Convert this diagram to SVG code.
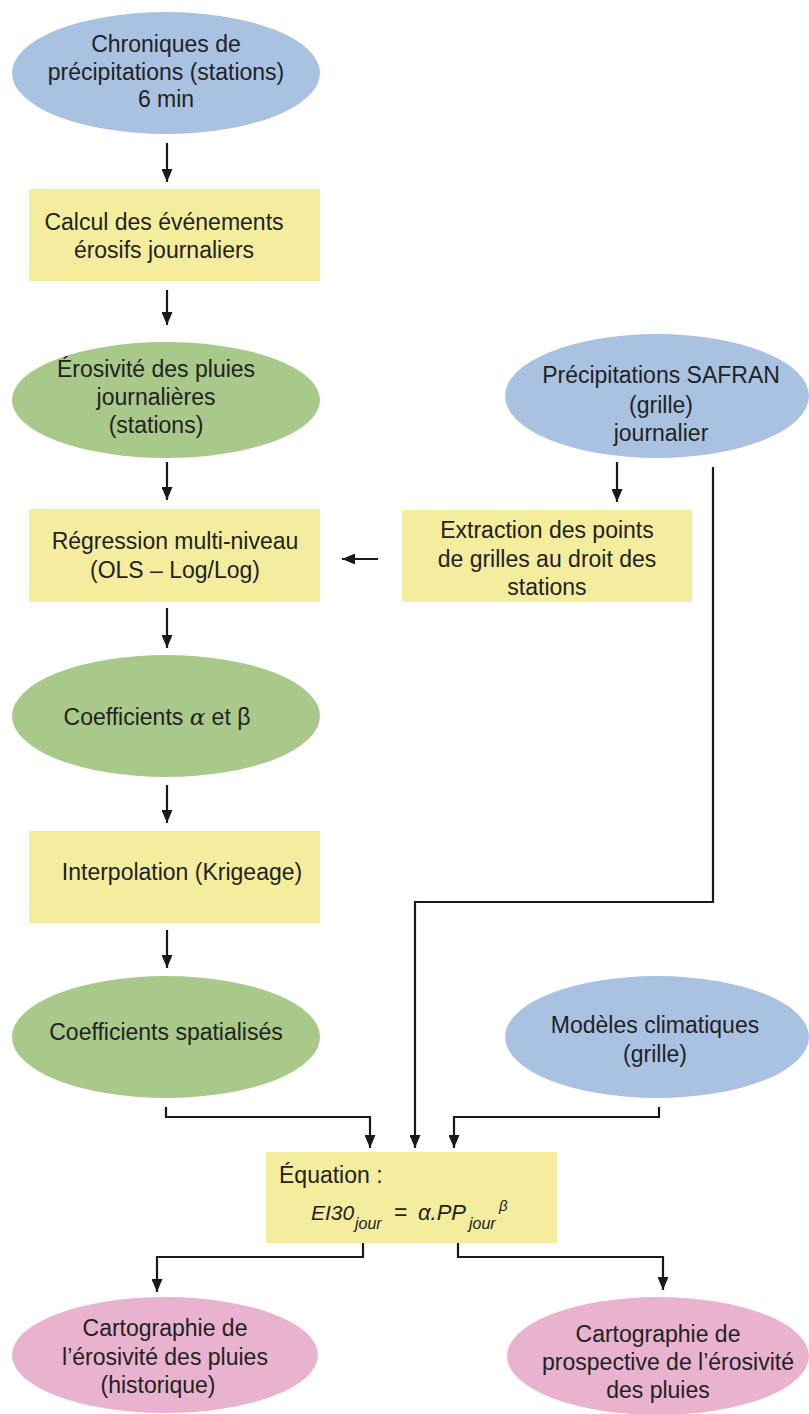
<svg xmlns="http://www.w3.org/2000/svg" width="809" height="1414" viewBox="0 0 809 1414">
<style>
text{font-family:"Liberation Sans",Arial,sans-serif;font-size:23px;fill:#222;}
.m{text-anchor:middle;}
.blue{fill:#a9c2e2;}
.green{fill:#a8c98a;}
.yellow{fill:#f4ed9e;}
.pink{fill:#e9b3cf;}
.c{fill:none;stroke:#1a1a1a;stroke-width:2.2;}
.a{marker-end:url(#ah);}
</style>
<defs>
<marker id="ah" viewBox="0 0 13 11" refX="13" refY="5.5" markerWidth="13" markerHeight="11" markerUnits="userSpaceOnUse" orient="auto">
<path d="M0,0 L13,5.5 L0,11 z" fill="#1a1a1a"/>
</marker>
</defs>
<rect width="809" height="1414" fill="#fff"/>

<g id="n-chroniques">
<ellipse class="blue" cx="166" cy="73" rx="154" ry="61"/>
<text class="m" x="166" y="52">Chroniques de</text>
<text class="m" x="166" y="80">précipitations (stations)</text>
<text class="m" x="166" y="107">6 min</text>
</g>
<g id="n-calcul">
<rect class="yellow" x="29" y="189" width="291" height="92"/>
<text class="m" x="164" y="230">Calcul des événements</text>
<text class="m" x="164" y="258">érosifs journaliers</text>
</g>
<g id="n-erosivite">
<ellipse class="green" cx="166" cy="400" rx="154" ry="58"/>
<text class="m" x="156" y="377">Érosivité des pluies</text>
<text class="m" x="156" y="405">journalières</text>
<text class="m" x="156" y="433">(stations)</text>
</g>
<g id="n-regression">
<rect class="yellow" x="29" y="509" width="291" height="93"/>
<text class="m" x="175" y="549">Régression multi-niveau</text>
<text class="m" x="175" y="578">(OLS – Log/Log)</text>
</g>
<g id="n-coef">
<ellipse class="green" cx="166" cy="716" rx="154" ry="61"/>
<text class="m" x="157" y="725">Coefficients <tspan font-style="italic" font-family="'DejaVu Serif',serif">α</tspan> et β</text>
</g>
<g id="n-interpolation">
<rect class="yellow" x="29" y="831" width="291" height="92"/>
<text class="m" x="182" y="880">Interpolation (Krigeage)</text>
</g>
<g id="n-coefspat">
<ellipse class="green" cx="166" cy="1037" rx="154" ry="61"/>
<text class="m" x="166" y="1040">Coefficients spatialisés</text>
</g>
<g id="n-safran">
<ellipse class="blue" cx="657" cy="396" rx="152" ry="62"/>
<text class="m" x="661" y="383">Précipitations SAFRAN</text>
<text class="m" x="661" y="413">(grille)</text>
<text class="m" x="661" y="441">journalier</text>
</g>
<g id="n-extraction">
<rect class="yellow" x="402" y="510" width="290" height="92"/>
<text class="m" x="547" y="538">Extraction des points</text>
<text class="m" x="547" y="567">de grilles au droit des</text>
<text class="m" x="547" y="595">stations</text>
</g>
<g id="n-modeles">
<ellipse class="blue" cx="657" cy="1037" rx="152" ry="61"/>
<text class="m" x="655" y="1033">Modèles climatiques</text>
<text class="m" x="655" y="1062">(grille)</text>
</g>
<g id="n-equation">
<rect class="yellow" x="266" y="1152" width="291" height="91"/>
<text x="279" y="1183">Équation :</text>
<text y="1220" font-style="italic"><tspan x="311" font-size="21">EI30</tspan><tspan x="355" y="1229" font-size="16">jour</tspan><tspan x="394" y="1220" font-style="normal">=</tspan><tspan x="418" font-size="22">α.PP</tspan><tspan x="469" y="1229" font-size="16">jour</tspan><tspan x="499" y="1211" font-size="15">β</tspan></text>
</g>
<g id="n-carto-hist">
<ellipse class="pink" cx="165" cy="1355" rx="153" ry="58"/>
<text class="m" x="165" y="1336">Cartographie de</text>
<text class="m" x="165" y="1365">l’érosivité des pluies</text>
<text class="m" x="158" y="1393">(historique)</text>
</g>
<g id="n-carto-prosp">
<ellipse class="pink" cx="658" cy="1356" rx="151" ry="59"/>
<text class="m" x="658" y="1342">Cartographie de</text>
<text class="m" x="668" y="1370">prospective de l’érosivité</text>
<text class="m" x="658" y="1398">des pluies</text>
</g>

<g id="connectors">
<path class="c a" d="M167,143 V182"/>
<path class="c a" d="M167,290 V325"/>
<path class="c a" d="M167,462 V500"/>
<path class="c a" d="M167,608 V648"/>
<path class="c a" d="M167,785 V823"/>
<path class="c a" d="M167,930 V968"/>
<path class="c a" d="M617,462 V502"/>
<path class="c a" d="M378,559 H342"/>
<path class="c a" d="M713,467 V902 H415 V1148"/>
<path class="c a" d="M166,1107 V1117 H370 V1148"/>
<path class="c a" d="M659,1107 V1117 H454 V1148"/>
<path class="c a" d="M363,1243 V1257 H157 V1292"/>
<path class="c a" d="M458,1243 V1257 H663 V1290"/>
</g>
</svg>
